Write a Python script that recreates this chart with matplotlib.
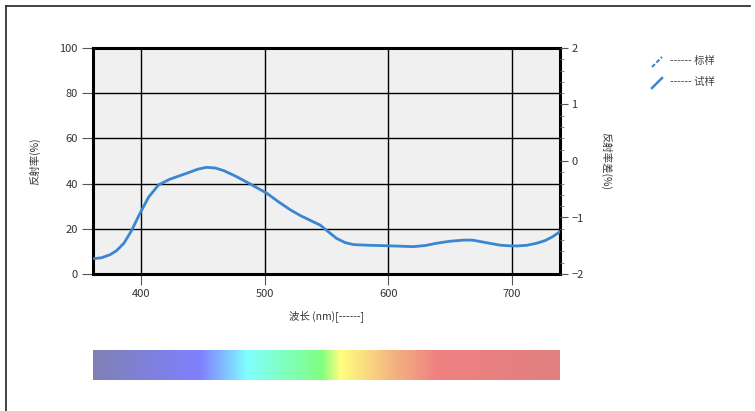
import matplotlib
matplotlib.use("Agg")
import matplotlib.pyplot as plt
import numpy as np
from matplotlib.colors import LinearSegmentedColormap
from matplotlib.lines import Line2D

plt.rcParams['font.family'] = ['Noto Sans CJK SC', 'DejaVu Sans']

# reflectance curve
wavelength = [362, 368, 375, 380, 386, 392, 399, 406, 414, 423, 437, 446, 453, 460,
              467, 476, 485, 493, 502, 511, 521, 529, 537, 545, 551, 558, 565, 572,
              585, 599, 610, 620, 630, 639, 650, 661, 668, 674, 682, 690, 697, 704,
              712, 720, 727, 733, 739]
reflectance = [6.8, 7.2, 8.6, 10.3, 13.6, 19.0, 26.8, 34.0, 39.4, 41.9, 44.6, 46.4, 47.2, 46.9,
               45.7, 43.4, 40.8, 38.4, 35.6, 32.0, 28.3, 25.8, 23.7, 21.6, 18.9, 15.8, 13.9, 13.0,
               12.7, 12.5, 12.3, 12.1, 12.6, 13.6, 14.5, 15.0, 15.0, 14.4, 13.6, 12.8, 12.5, 12.4,
               12.7, 13.6, 14.8, 16.5, 18.7]

x_ticks = [400, 500, 600, 700]
y_ticks = [0, 20, 40, 60, 80, 100]
y2_ticks = [-2, -1, 0, 1, 2]

# spectrum strip colours (position 0..1 along the strip)
strip_pos = [0.0, 0.23, 0.33, 0.49, 0.53, 0.65, 0.74, 1.0]
strip_col = ['#7f80b6', '#8080ff', '#80ffff', '#80ff80', '#ffff80', '#f4b080', '#f08080', '#e08080']

fig = plt.figure(figsize=(7.55, 4.11), dpi=100)
fig.patch.set_facecolor('white')

# outer frame (only top and left edges show)
fig.add_artist(Line2D([6 / 755, 6 / 755], [0, 1 - 6 / 411], color='#333333', lw=1.3))
fig.add_artist(Line2D([6 / 755, 750 / 755], [1 - 6 / 411, 1 - 6 / 411], color='#333333', lw=1.3))

ax = fig.add_axes([93 / 755, 1 - 274 / 411, 467 / 755, 226 / 411])
ax.set_facecolor('#f0f0f0')
ax.plot(wavelength, reflectance, color='#3a86d0', lw=2.0, zorder=3,
        solid_joinstyle='round', solid_capstyle='round')
ax.set_xlim(361, 739)
ax.set_ylim(0, 100)
ax.set_xticks(x_ticks)
ax.set_yticks(y_ticks)
ax.grid(True, color='black', lw=1.0)
ax.set_axisbelow(True)
for s in ax.spines.values():
    s.set_linewidth(2.2)
    s.set_color('black')
ax.tick_params(axis='both', direction='out', length=8, width=0.8, color='#555555',
               labelsize=8, labelcolor='#333333', pad=3)
ax.set_xlabel('波长 (nm)[------]', fontsize=7.5, color='#333333', labelpad=8)
ax.set_ylabel('反射率(%)', fontsize=7.5, color='#333333', labelpad=14)

ax2 = ax.twinx()
ax2.set_ylim(-2, 2)
ax2.set_yticks(y2_ticks)
ax2.set_yticks(np.arange(-2, 2.01, 0.2), minor=True)
ax2.tick_params(axis='y', which='major', direction='out', length=6, width=0.8, color='#555555',
                labelsize=8, labelcolor='#333333', pad=2)
ax2.tick_params(axis='y', which='minor', direction='out', length=3, width=0.6, color='#777777')
for s in ax2.spines.values():
    s.set_visible(False)
ax2.set_ylabel('反射率差(%)', fontsize=7.5, color='#333333', rotation=-90, labelpad=20)

# legend drawn by hand
fig.add_artist(Line2D([652 / 755, 662 / 755], [1 - 67 / 411, 1 - 57 / 411],
                      color='#3a86d0', lw=1.5, ls=(0, (2, 1))))
fig.add_artist(Line2D([652 / 755, 662 / 755], [1 - 88 / 411, 1 - 78 / 411],
                      color='#3a86d0', lw=1.8))
fig.text(670 / 755, 1 - 61 / 411, '------ 标样', fontsize=7.5, color='#444444', va='center')
fig.text(670 / 755, 1 - 82 / 411, '------ 试样', fontsize=7.5, color='#444444', va='center')

# spectrum strip
cmap = LinearSegmentedColormap.from_list('spec', list(zip(strip_pos, strip_col)))
axs = fig.add_axes([93 / 755, 1 - 380 / 411, 467 / 755, 30 / 411])
axs.imshow(np.linspace(0, 1, 500)[None, :], aspect='auto', cmap=cmap)
axs.axis('off')

fig.savefig('out.png', dpi=100)
